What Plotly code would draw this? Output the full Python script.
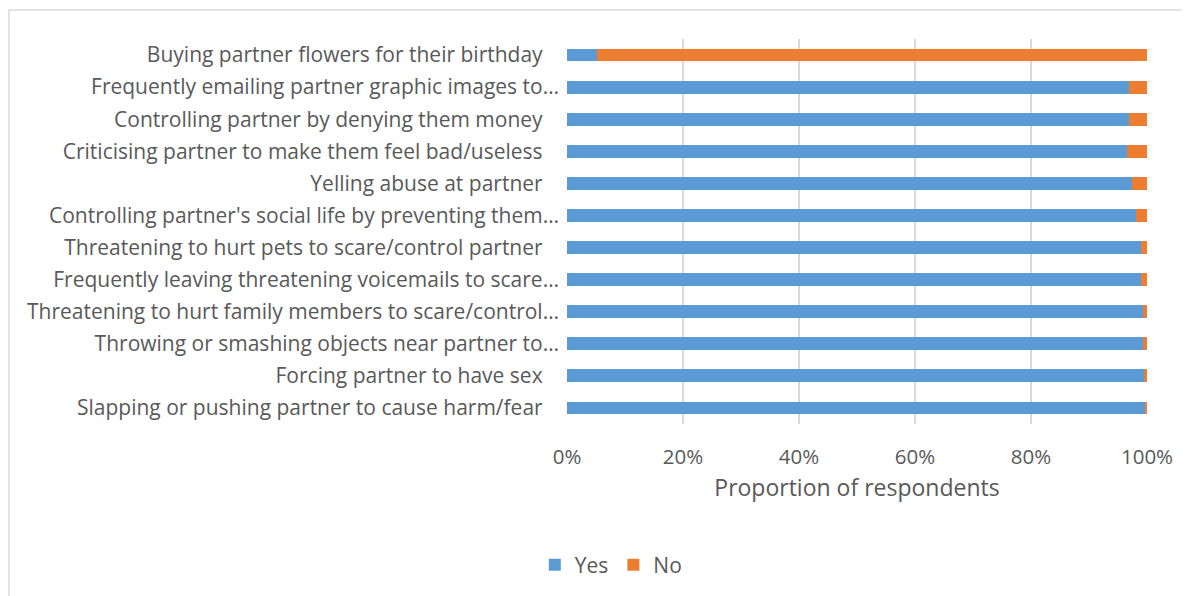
import plotly.graph_objects as go

categories = [
    "Buying partner flowers for their birthday",
    "Frequently emailing partner graphic images to…",
    "Controlling partner by denying them money",
    "Criticising partner to make them feel bad/useless",
    "Yelling abuse at partner",
    "Controlling partner's social life by preventing them…",
    "Threatening to hurt pets to scare/control partner",
    "Frequently leaving threatening voicemails to scare…",
    "Threatening to hurt family members to scare/control…",
    "Throwing or smashing objects near partner to…",
    "Forcing partner to have sex",
    "Slapping or pushing partner to cause harm/fear",
]
yes_pct = [5.2, 96.9, 96.9, 96.6, 97.4, 98.1, 98.9, 98.9, 99.3, 99.3, 99.4, 99.6]
no_pct = [94.8, 3.1, 3.1, 3.4, 2.6, 1.9, 1.1, 1.1, 0.7, 0.7, 0.6, 0.4]
x_ticks = [0, 20, 40, 60, 80, 100]
x_tick_labels = ["0%", "20%", "40%", "60%", "80%", "100%"]

FONT = "Open Sans"
TXT = "#595959"

# Untruncated labels sit a little further from the axis than truncated ones
y_tick_text = [c if c.endswith("…") else c + "\u00a0\u00a0\u00a0" for c in categories]

fig = go.Figure()
fig.add_trace(go.Bar(y=categories, x=yes_pct, name="Yes", orientation="h",
                     marker=dict(color="#5B9BD5", line=dict(width=0))))
fig.add_trace(go.Bar(y=categories, x=no_pct, name="No", orientation="h",
                     marker=dict(color="#ED7D31", line=dict(width=0))))

fig.update_layout(
    width=1189, height=596,
    barmode="stack", bargap=0.6,
    paper_bgcolor="white", plot_bgcolor="white",
    margin=dict(l=559, r=50, t=31, b=180, autoexpand=False),
    font=dict(family=FONT, color=TXT, size=21),
    showlegend=True,
    legend=dict(orientation="h", xref="container", yref="container",
                x=0.507, xanchor="center", y=0.0654, yanchor="middle",
                font=dict(size=21, color=TXT), traceorder="normal",
                itemwidth=30),
    shapes=[dict(type="rect", xref="paper", yref="paper",
                 x0=-558/580, x1=1.2, y0=-1.0, y1=1 + 29/385,
                 line=dict(color="#d9d9d9", width=1.5), fillcolor="rgba(0,0,0,0)",
                 layer="below")],
)
fig.update_xaxes(range=[0, 100], tickvals=x_ticks, ticktext=x_tick_labels,
                 showgrid=True, gridcolor="#d9d9d9", gridwidth=1.5,
                 zeroline=False, showline=False, ticks="",
                 ticklabelstandoff=18, automargin=False,
                 tickfont=dict(size=20.5, color=TXT),
                 title=dict(text="Proportion of respondents", font=dict(size=23, color=TXT),
                            standoff=11))
fig.update_yaxes(autorange="reversed", showgrid=False, zeroline=False,
                 tickvals=categories, ticktext=y_tick_text,
                 showline=False, ticks="", ticklabelstandoff=7, automargin=False,
                 tickfont=dict(size=21, color=TXT))

fig.write_html("out.html")
